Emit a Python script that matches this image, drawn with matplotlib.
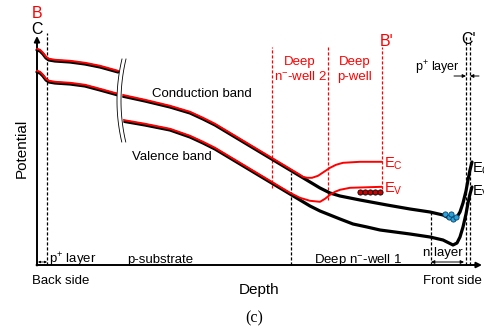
import numpy as np
import matplotlib
matplotlib.use("Agg")
import matplotlib.pyplot as plt
import matplotlib.transforms as mtransforms

plt.rcParams['font.family'] = ['Liberation Sans', 'DejaVu Sans']
plt.rcParams['mathtext.fontset'] = 'custom'
plt.rcParams['mathtext.rm'] = 'Liberation Sans'
plt.rcParams['mathtext.it'] = 'Liberation Sans:italic'

# band edges, depth (x) vs potential (y), origin at the axes corner
# part left of the axis break
left_depth = [0, 3, 6, 9, 12, 18, 33, 48, 63, 81]
left_upper = [215, 214, 211, 207, 205, 204, 203, 201, 198, 193]
left_lower = [193, 192, 189, 185, 183, 182, 181, 179, 175, 170]

# path C (black), right of the break
cb_depth = [85, 108, 133, 153, 166, 178, 193, 208, 223, 238, 253, 263, 273, 283, 293,
            303, 313, 323, 350, 373, 393, 406, 412, 416, 420, 423, 426, 429, 431, 433, 435]
cb_pot = [169, 164, 158, 152, 146, 140, 131, 122, 113, 104, 95, 89, 83, 77, 72,
          69, 67, 65, 60, 56, 53, 50, 47, 46, 48, 53, 62, 74, 85, 95, 103]
vb_depth = [85, 108, 133, 153, 166, 178, 193, 208, 223, 238, 253, 263, 273, 283, 293,
            303, 316, 330, 343, 358, 373, 393, 406, 412, 416, 420, 423, 426, 429, 431, 433, 435]
vb_pot = [144, 140, 135, 128, 122, 116, 107, 98, 89, 80, 71, 65, 59, 54, 50,
          46, 41, 38, 35, 33, 31, 28, 25, 22, 20, 22, 28, 38, 51, 62, 71, 78]

# path B (red) leaves path C near the deep n- well 2
red_cb_depth = [266, 270, 275, 281, 287, 293, 299, 306, 323, 345]
red_cb_pot = [87, 86, 86, 88, 92, 96, 99, 101, 102, 102]
red_vb_depth = [263, 273, 283, 288, 293, 298, 303, 313, 345]
red_vb_pot = [66, 63, 62, 65, 69, 72, 74, 76, 77]

# carriers
holes_depth = [323, 328, 333, 338, 343]
holes_pot = [73, 73, 73, 73, 73]
elec_depth = [408, 412, 416, 419, 414]
elec_pot = [51, 48, 46, 48, 51]

fig = plt.figure(figsize=(4.84, 3.30), dpi=100)
ax = fig.add_axes([0, 0, 1, 1])
ax.set_xlim(-37, 447)
ax.set_ylim(-65, 265)
ax.axis('off')

up = mtransforms.offset_copy(ax.transData, fig=fig, x=0, y=1.2, units='dots')
BLK = dict(color='black', lw=2.3, solid_capstyle='round', solid_joinstyle='round', zorder=3)
RED = dict(color='#ff0000', lw=1.4, solid_capstyle='round', solid_joinstyle='round', zorder=4)

# left part
for yy in (left_upper, left_lower):
    ax.plot(left_depth, yy, **BLK)
    ax.plot(left_depth, yy, transform=up, **RED)

# path C
ax.plot(cb_depth, cb_pot, **BLK)
ax.plot(vb_depth, vb_pot, **BLK)

# path B = path C up to the split, then its own tail
cd = np.array(cb_depth); cp = np.array(cb_pot)
m = cd <= 263
ax.plot(list(cd[m]) + red_cb_depth, list(cp[m]) + red_cb_pot, transform=up, **RED)
vd = np.array(vb_depth); vp = np.array(vb_pot)
m = vd <= 253
ax.plot(list(vd[m]) + red_vb_depth, list(vp[m]) + red_vb_pot, transform=up, **RED)

# axis break
by = np.linspace(123, 206, 40)
bx = 80 + 5 * ((by - 164) / 42) ** 2
ax.fill_betweenx(by, bx, bx + 4, color='white', zorder=5)
ax.plot(bx, by, color='black', lw=0.6, zorder=6)
ax.plot(bx + 4, by, color='black', lw=0.6, zorder=6)

# carriers
ax.scatter(holes_depth, holes_pot, s=14, c='#cc0000', edgecolors='black', linewidths=0.6, zorder=7)
ax.scatter(elec_depth, elec_pot, s=14, c='#2aa3d8', edgecolors='#0a3d6b', linewidths=0.6, zorder=7)

# dashed guides
dash = dict(lw=0.9, ls=(0, (2.5, 1.5)), zorder=2)
ax.plot([10, 10], [0, 232], color='black', **dash)
ax.plot([254, 254], [0, 92], color='black', **dash)
ax.plot([394, 394], [0, 53], color='black', **dash)
ax.plot([429, 429], [0, 230], color='black', **dash)
ax.plot([433, 433], [0, 230], color='black', **dash)
ax.plot([235, 235], [77, 218], color='#ff0000', **dash)
ax.plot([291, 291], [65, 218], color='#ff0000', **dash)
ax.plot([345, 345], [76, 218], color='#ff0000', **dash)

# axes with arrows
ax.annotate('', xy=(0, 229), xytext=(0, -0.5),
            arrowprops=dict(arrowstyle='-|>', lw=1.4, color='black', mutation_scale=8, shrinkA=0, shrinkB=0))
ax.annotate('', xy=(445, 0), xytext=(-0.5, 0),
            arrowprops=dict(arrowstyle='-|>', lw=1.4, color='black', mutation_scale=8, shrinkA=0, shrinkB=0))

fs = 9.5
red = '#ff0000'
ax.text(0, 252, 'B', color=red, fontsize=11.5, ha='center', va='center')
ax.text(0, 236, 'C', color='black', fontsize=11.5, ha='center', va='center')
ax.text(263, 203, 'Deep', color=red, fontsize=fs, ha='center', va='center')
ax.text(263, 188, 'n$^{-}$-well 2', color=red, fontsize=fs, ha='center', va='center')
ax.text(318, 203, 'Deep', color=red, fontsize=fs, ha='center', va='center')
ax.text(318, 188, 'p-well', color=red, fontsize=fs, ha='center', va='center')
ax.text(343, 224, "B'", color=red, fontsize=11.5, ha='left', va='center')
ax.text(431, 226, "C'", color='black', fontsize=11.5, ha='center', va='center')
ax.text(400, 197, 'p$^{+}$ layer', color='black', fontsize=fs - 0.5, ha='center', va='center')
ax.annotate('', xy=(429, 189), xytext=(417, 189),
            arrowprops=dict(arrowstyle='-|>', lw=0.7, color='black', mutation_scale=5, shrinkA=0, shrinkB=0))
ax.annotate('', xy=(433, 189), xytext=(442, 189),
            arrowprops=dict(arrowstyle='-|>', lw=0.7, color='black', mutation_scale=5, shrinkA=0, shrinkB=0))
ax.text(347, 101, 'E$_\\mathrm{C}$', color=red, fontsize=fs + 1, ha='left', va='center')
ax.text(347, 76, 'E$_\\mathrm{V}$', color=red, fontsize=fs + 1, ha='left', va='center')
ax.text(435, 96, 'E$_\\mathrm{C}$', color='black', fontsize=fs + 1, ha='left', va='center')
ax.text(435, 73, 'E$_\\mathrm{V}$', color='black', fontsize=fs + 1, ha='left', va='center')
ax.text(165, 171, 'Conduction band', fontsize=fs, ha='center', va='center')
ax.text(135, 108, 'Valence band', fontsize=fs, ha='center', va='center')
ax.text(-15, 117, 'Potential', fontsize=11, rotation=90, ha='center', va='center')
ax.text(222, -25, 'Depth', fontsize=11, ha='center', va='center')
ax.text(217, -53, '(c)', fontsize=11.5, family='Liberation Serif', ha='center', va='center')
ax.text(24, -16, 'Back side', fontsize=fs, ha='center', va='center')
ax.text(415, -16, 'Front side', fontsize=fs, ha='center', va='center')
ax.text(12, 5, 'p$^{+}$ layer', fontsize=fs, ha='left', va='center')
ax.annotate('', xy=(1, 3), xytext=(10, 3),
            arrowprops=dict(arrowstyle='<|-|>', lw=0.6, color='black', mutation_scale=3, shrinkA=0, shrinkB=0))
ax.text(123, 5, 'p-substrate', fontsize=fs, ha='center', va='center')
ax.text(321, 5, 'Deep n$^{-}$-well 1', fontsize=fs, ha='center', va='center')
ax.text(406, 12, 'n layer', fontsize=fs, ha='center', va='center')
ax.annotate('', xy=(394, 3), xytext=(427, 3),
            arrowprops=dict(arrowstyle='<|-|>', lw=0.7, color='black', mutation_scale=5, shrinkA=0, shrinkB=0))

fig.savefig('out.png', dpi=100)
